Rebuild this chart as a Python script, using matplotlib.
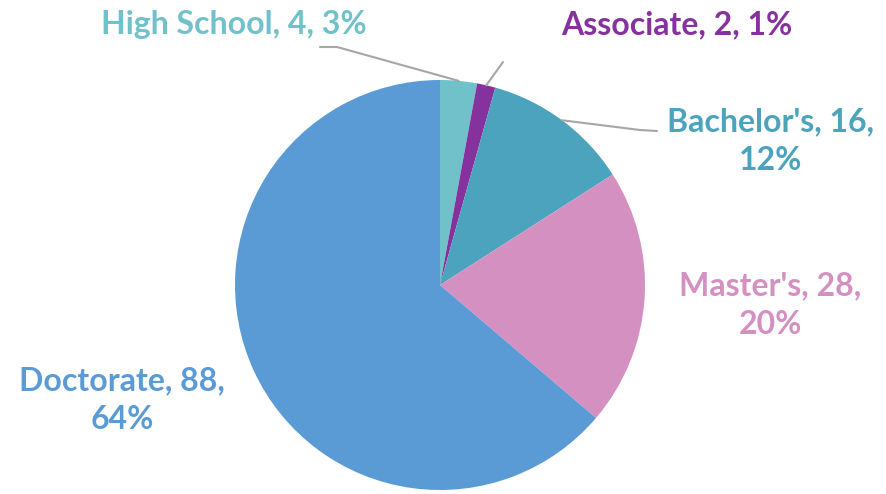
import numpy as np
import matplotlib.pyplot as plt

# data
labels = ["High School", "Associate", "Bachelor's", "Master's", "Doctorate"]
counts = [4, 2, 16, 28, 88]
colors = ["#70C1C9", "#86329E", "#4BA3BD", "#D490C1", "#5B9BD5"]

# label layout (pixel coords, y from top), line breaks per label
label_pos = [(234, 24), (677, 25), (771, 141), (770, 305), (122, 400)]
label_break = [False, False, True, True, True]
# leader elbows (pixel coords, outer end first), None = no leader
leader_pts = [[(320, 47), (337, 47)], [(503, 62)], [(657, 131), (640, 130)], None, None]

W, H = 887, 494
cx, cy, R = 440, 285, 205

fig = plt.figure(figsize=(W / 100, H / 100), dpi=100)
ax = fig.add_axes([0, 0, 1, 1])

wedges, _ = ax.pie(counts, colors=colors, startangle=90, counterclock=False,
                   center=(cx, H - cy), radius=R, frame=True,
                   wedgeprops=dict(linewidth=0))
ax.set_xlim(0, W)
ax.set_ylim(0, H)
ax.set_aspect("equal")
ax.axis("off")

total = sum(counts)
for i, (lab, n) in enumerate(zip(labels, counts)):
    pct = round(100 * n / total)
    sep = ",\n" if label_break[i] else ", "
    txt = f"{lab}, {n}{sep}{pct}%"
    x, y = label_pos[i]
    ax.text(x, H - y, txt, ha="center", va="center", color=colors[i],
            fontsize=23, fontweight="bold", family="Lato",
            linespacing=1.38)
    if leader_pts[i]:
        w = wedges[i]
        mid = np.deg2rad((w.theta1 + w.theta2) / 2)
        pts = [(cx + R * np.cos(mid), cy - R * np.sin(mid))] + leader_pts[i][::-1]
        xs = [p[0] for p in pts]
        ys = [H - p[1] for p in pts]
        ax.plot(xs, ys, color="#A6A6A6", lw=1.5, solid_capstyle="round")

fig.savefig("out.png", dpi=100, facecolor="white")
